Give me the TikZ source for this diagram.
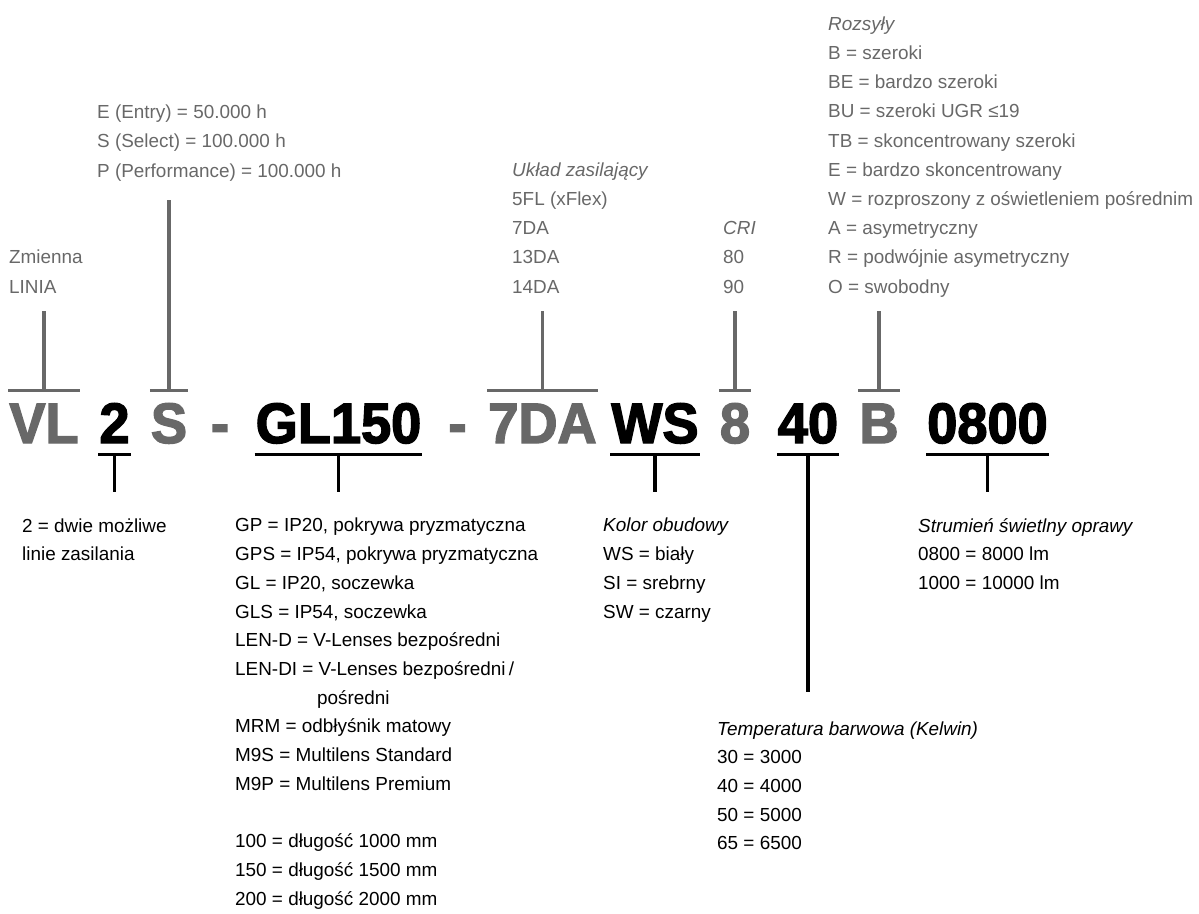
\documentclass[tikz,border=0pt]{standalone}
\usepackage{fontspec}
\setmainfont{Liberation Sans}
\newfontfamily\codefont{Liberation Sans}[FakeStretch=0.95, BoldFeatures={FakeBold=2.5}]
\usepackage{tikz}
\usepackage{xcolor}
\definecolor{codegray}{HTML}{686868}

\begin{document}
\begin{tikzpicture}[
    x=1pt, y=-1pt,
    code/.style={
        font=\codefont\bfseries\fontsize{57}{57}\selectfont,
        anchor=base,
        inner sep=0pt,
        outer xsep=1pt,
        outer ysep=11.5pt,
        text height=41pt,
        text depth=0pt
    },
    greycode/.style={code, text=codegray},
    blackcode/.style={code, text=black},
    toplbl/.style={
        font=\fontsize{18.9}{29.2}\selectfont,
        text=codegray,
        align=left,
        anchor=base west,
        inner sep=0pt
    },
    botlbl/.style={
        font=\fontsize{18.9}{28.7}\selectfont,
        text=black,
        align=left,
        anchor=base west,
        inner sep=0pt
    },
    upline/.style={draw=codegray, line width=3.2pt},
    downline/.style={draw=black, line width=3.2pt}
]
\useasboundingbox (0,0) rectangle (1199,913);

% the product code
\node[greycode]  (vl)   at (44,443)    {VL};
\node[blackcode] (nr)   at (114.5,443) {2};
\node[greycode]  (ser)  at (169,443)   {S};
\node[greycode]  (dsha) at (220,443)   {-};
\node[blackcode] (opt)  at (338.5,443) {GL150};
\node[greycode]  (dshb) at (457.5,443) {-};
\node[greycode]  (drv)  at (542.5,443) {7DA};
\node[blackcode] (col)  at (655,443)   {WS};
\node[greycode]  (cri)  at (735,443)   {8};
\node[blackcode] (cct)  at (808,443)   {40};
\node[greycode]  (dist) at (879,443)   {B};
\node[blackcode] (lum)  at (987.5,443) {0800};

% upper labels (placed at the baseline of their last line)
\node[toplbl] (vlLbl)   at (9,293)   {Zmienna\\LINIA};
\node[toplbl] (serLbl)  at (97,177)  {E (Entry) = 50.000 h\\S (Select) = 100.000 h\\P (Performance) = 100.000 h};
\node[toplbl] (drvLbl)  at (512,293) {\textit{Układ zasilający}\\5FL (xFlex)\\7DA\\13DA\\14DA};
\node[toplbl] (criLbl)  at (723,293) {\textit{CRI}\\80\\90};
\node[toplbl] (distLbl) at (828,293) {\textit{Rozsyły}\\B = szeroki\\BE = bardzo szeroki\\BU = szeroki UGR ≤19\\TB = skoncentrowany szeroki\\E = bardzo skoncentrowany\\W = rozproszony z oświetleniem pośrednim\\A = asymetryczny\\R = podwójnie asymetryczny\\O = swobodny};

% lower labels
\node[botlbl] (nrLbl)  at (22,560.7) {2 = dwie możliwe\\linie zasilania};
\node[botlbl] (optLbl) at (235,905)  {GP = IP20, pokrywa pryzmatyczna\\GPS = IP54, pokrywa pryzmatyczna\\GL = IP20, soczewka\\GLS = IP54, soczewka\\LEN-D = V-Lenses bezpośredni\\LEN-DI = V-Lenses bezpośredni\,/\\\hspace*{82pt}pośredni\\MRM = odbłyśnik matowy\\M9S = Multilens Standard\\M9P = Multilens Premium\\[28.7pt]100 = długość 1000 mm\\150 = długość 1500 mm\\200 = długość 2000 mm};
\node[botlbl] (colLbl) at (603,618)  {\textit{Kolor obudowy}\\WS = biały\\SI = srebrny\\SW = czarny};
\node[botlbl] (lumLbl) at (918,589.4) {\textit{Strumień świetlny oprawy}\\0800 = 8000 lm\\1000 = 10000 lm};
\node[botlbl] (cctLbl) at (717,849.8) {\textit{Temperatura barwowa (Kelwin)}\\30 = 3000\\40 = 4000\\50 = 5000\\65 = 6500};

% free ends of the leader lines
\coordinate (upEnd)    at (0,311);
\coordinate (upEndS)   at (0,200);
\coordinate (downEnd)  at (0,492);
\coordinate (downEndK) at (0,692);

\foreach \n in {vl,ser,drv,cri,dist}
    \draw[upline] (\n.north west) -- (\n.north east);
\foreach \n in {vl,drv,cri,dist}
    \draw[upline] (\n.north) -- (\n.north |- upEnd);
\draw[upline] (ser.north) -- (ser.north |- upEndS);

\foreach \n in {nr,opt,col,cct,lum}
    \draw[downline] (\n.south west) -- (\n.south east);
\foreach \n in {nr,opt,col,lum}
    \draw[downline] (\n.south) -- (\n.south |- downEnd);
\draw[downline] (cct.south) -- (cct.south |- downEndK);

\end{tikzpicture}
\end{document}
